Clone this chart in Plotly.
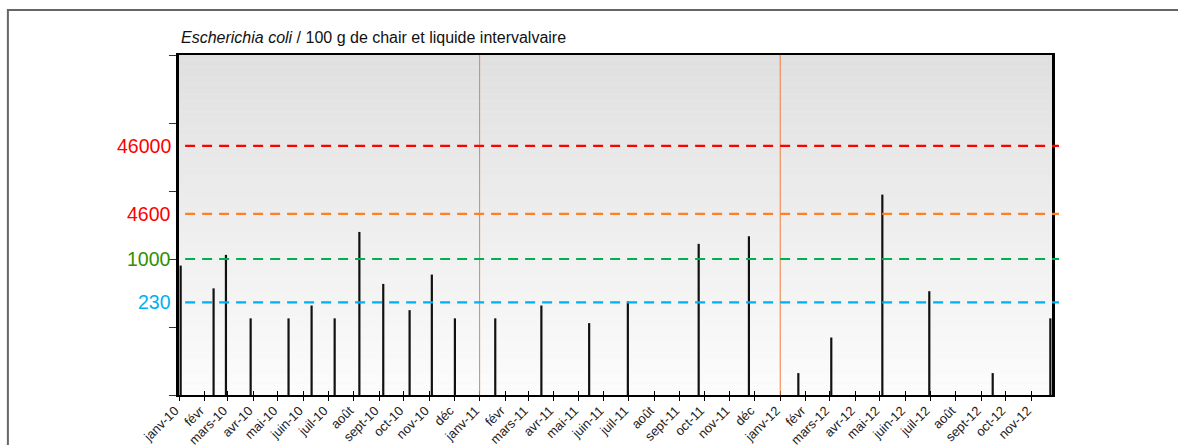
import math
import pandas as pd
import plotly.graph_objects as go

# ---------------- data ----------------
sample_dates = [
    "2010-01-03", "2010-02-12", "2010-02-27", "2010-03-29", "2010-05-14",
    "2010-06-11", "2010-07-09", "2010-08-08", "2010-09-06", "2010-10-08",
    "2010-11-04", "2010-12-02",
    "2011-01-20", "2011-03-17", "2011-05-14", "2011-06-30", "2011-09-24",
    "2011-11-24",
    "2012-01-23", "2012-03-03", "2012-05-04", "2012-06-30", "2012-09-15",
    "2012-11-24",
]
ecoli_values = [
    800, 370, 1150, 134, 134,
    207, 134, 2500, 430, 177,
    590, 134,
    134, 207, 114, 238, 1670,
    2160,
    21, 70, 8850, 336, 21,
    134,
]

threshold_values = [230, 1000, 4600, 46000]
threshold_labels = ["230", "1000", "4600", "46000"]

month_labels = [
    "janv-10", "févr", "mars-10", "avr-10", "mai-10", "juin-10", "juil-10",
    "août", "sept-10", "oct-10", "nov-10", "déc",
    "janv-11", "févr", "mars-11", "avr-11", "mai-11", "juin-11", "juil-11",
    "août", "sept-11", "oct-11", "nov-11", "déc",
    "janv-12", "févr", "mars-12", "avr-12", "mai-12", "juin-12", "juil-12",
    "août", "sept-12", "oct-12", "nov-12",
]
year_separators = ["2011-01-01", "2012-01-01"]

title_italic = "Escherichia coli"
title_rest = " / 100 g de chair et liquide intervalvaire"

# ---------------- styles ----------------
FONT = "Liberation Sans, Arial, sans-serif"
Y_MIN = 10
line_colors = {230: "#00b0f0", 1000: "#00b050", 4600: "#ff7f27", 46000: "#ff0000"}
label_colors = {230: "#00b0f0", 1000: "#2f8f00", 4600: "#ff0000", 46000: "#ff0000"}
x_range = ["2010-01-01", "2012-11-26"]

tick_dates = pd.date_range("2010-01-01", periods=len(month_labels), freq="MS")

# spikes built from the data lists
xs, ys = [], []
for d, v in zip(sample_dates, ecoli_values):
    xs += [d, d, None]
    ys += [Y_MIN, v, None]

fig = go.Figure()
fig.add_trace(go.Scatter(
    x=xs, y=ys, mode="lines",
    line=dict(color="#111111", width=2.2),
    hoverinfo="skip", showlegend=False,
))
# invisible trace to carry the overlaid axis for crossing ticks
fig.add_trace(go.Scatter(
    x=[sample_dates[0]], y=[ecoli_values[0]], xaxis="x2",
    mode="markers", marker=dict(opacity=0), showlegend=False, hoverinfo="skip",
))

shapes = []
# gradient background
n_bands = 60
for i in range(n_bands):
    g = int(round(252 - (252 - 224) * (i / (n_bands - 1))))
    shapes.append(dict(
        type="rect", xref="paper", yref="paper",
        x0=0, x1=1, y0=i / n_bands, y1=(i + 1) / n_bands,
        fillcolor=f"rgb({g},{g},{g})", line=dict(width=0), layer="below",
    ))
# year separators
for d in year_separators:
    shapes.append(dict(
        type="line", xref="x", yref="paper", x0=d, x1=d, y0=0, y1=1,
        line=dict(color="#f07f3c", width=1), layer="above",
    ))
# threshold lines
for v in threshold_values:
    shapes.append(dict(
        type="line", xref="paper", yref="y", x0=0.007, x1=1.008,
        y0=v, y1=v,
        line=dict(color=line_colors[v], width=2.2, dash="10px,7px"),
        layer="above",
    ))
# outer frame
shapes.append(dict(
    type="rect", xref="paper", yref="paper",
    x0=-0.196, x1=1.2, y0=-0.3, y1=1.132,
    line=dict(color="#666666", width=2), fillcolor="rgba(0,0,0,0)",
))

annotations = []
for v, lab in zip(threshold_values, threshold_labels):
    annotations.append(dict(
        xref="paper", yref="y", x=-0.007, y=math.log10(v),
        text=lab, showarrow=False, xanchor="right", yanchor="middle",
        font=dict(family=FONT, size=19.5, color=label_colors[v]),
    ))
annotations.append(dict(
    xref="paper", yref="paper", x=0.0, y=1.05,
    text=f"<i>{title_italic}</i>{title_rest}", showarrow=False,
    xanchor="left", yanchor="middle",
    font=dict(family=FONT, size=16, color="#111111"),
))

fig.update_layout(
    width=1178, height=445,
    margin=dict(l=179, r=126, t=55, b=50),
    paper_bgcolor="white", plot_bgcolor="rgb(240,240,240)",
    showlegend=False,
    font=dict(family=FONT, color="#222222"),
    shapes=shapes, annotations=annotations,
    xaxis=dict(
        type="date", range=x_range, automargin=False,
        tickvals=list(tick_dates), ticktext=month_labels,
        tickangle=-45, tickfont=dict(family=FONT, size=13, color="#222222"),
        ticklabelstandoff=-3, ticklabelshift=-4,
        ticks="outside", ticklen=4, tickcolor="#000000", tickwidth=1,
        showgrid=False, zeroline=False,
        showline=True, linecolor="#000000", linewidth=2, mirror=True,
    ),
    xaxis2=dict(
        type="date", range=x_range, overlaying="x", anchor="y", side="bottom",
        tickvals=list(tick_dates), showticklabels=False, automargin=False,
        ticks="inside", ticklen=4, tickcolor="#000000", tickwidth=1,
        showgrid=False, zeroline=False, showline=False,
    ),
    yaxis=dict(
        type="log", range=[1, 6], automargin=False,
        tickvals=[10, 100, 1000, 10000, 100000, 1000000],
        ticktext=["", "", "", "", "", ""],
        ticks="outside", ticklen=7, tickcolor="#333333", tickwidth=1,
        showgrid=False, zeroline=False,
        showline=True, linecolor="#000000", linewidth=2.5, mirror=True,
    ),
)

fig.write_html(
    "out.html",
    config={"displayModeBar": False},
    post_script="document.body.style.margin='0px';",
)
